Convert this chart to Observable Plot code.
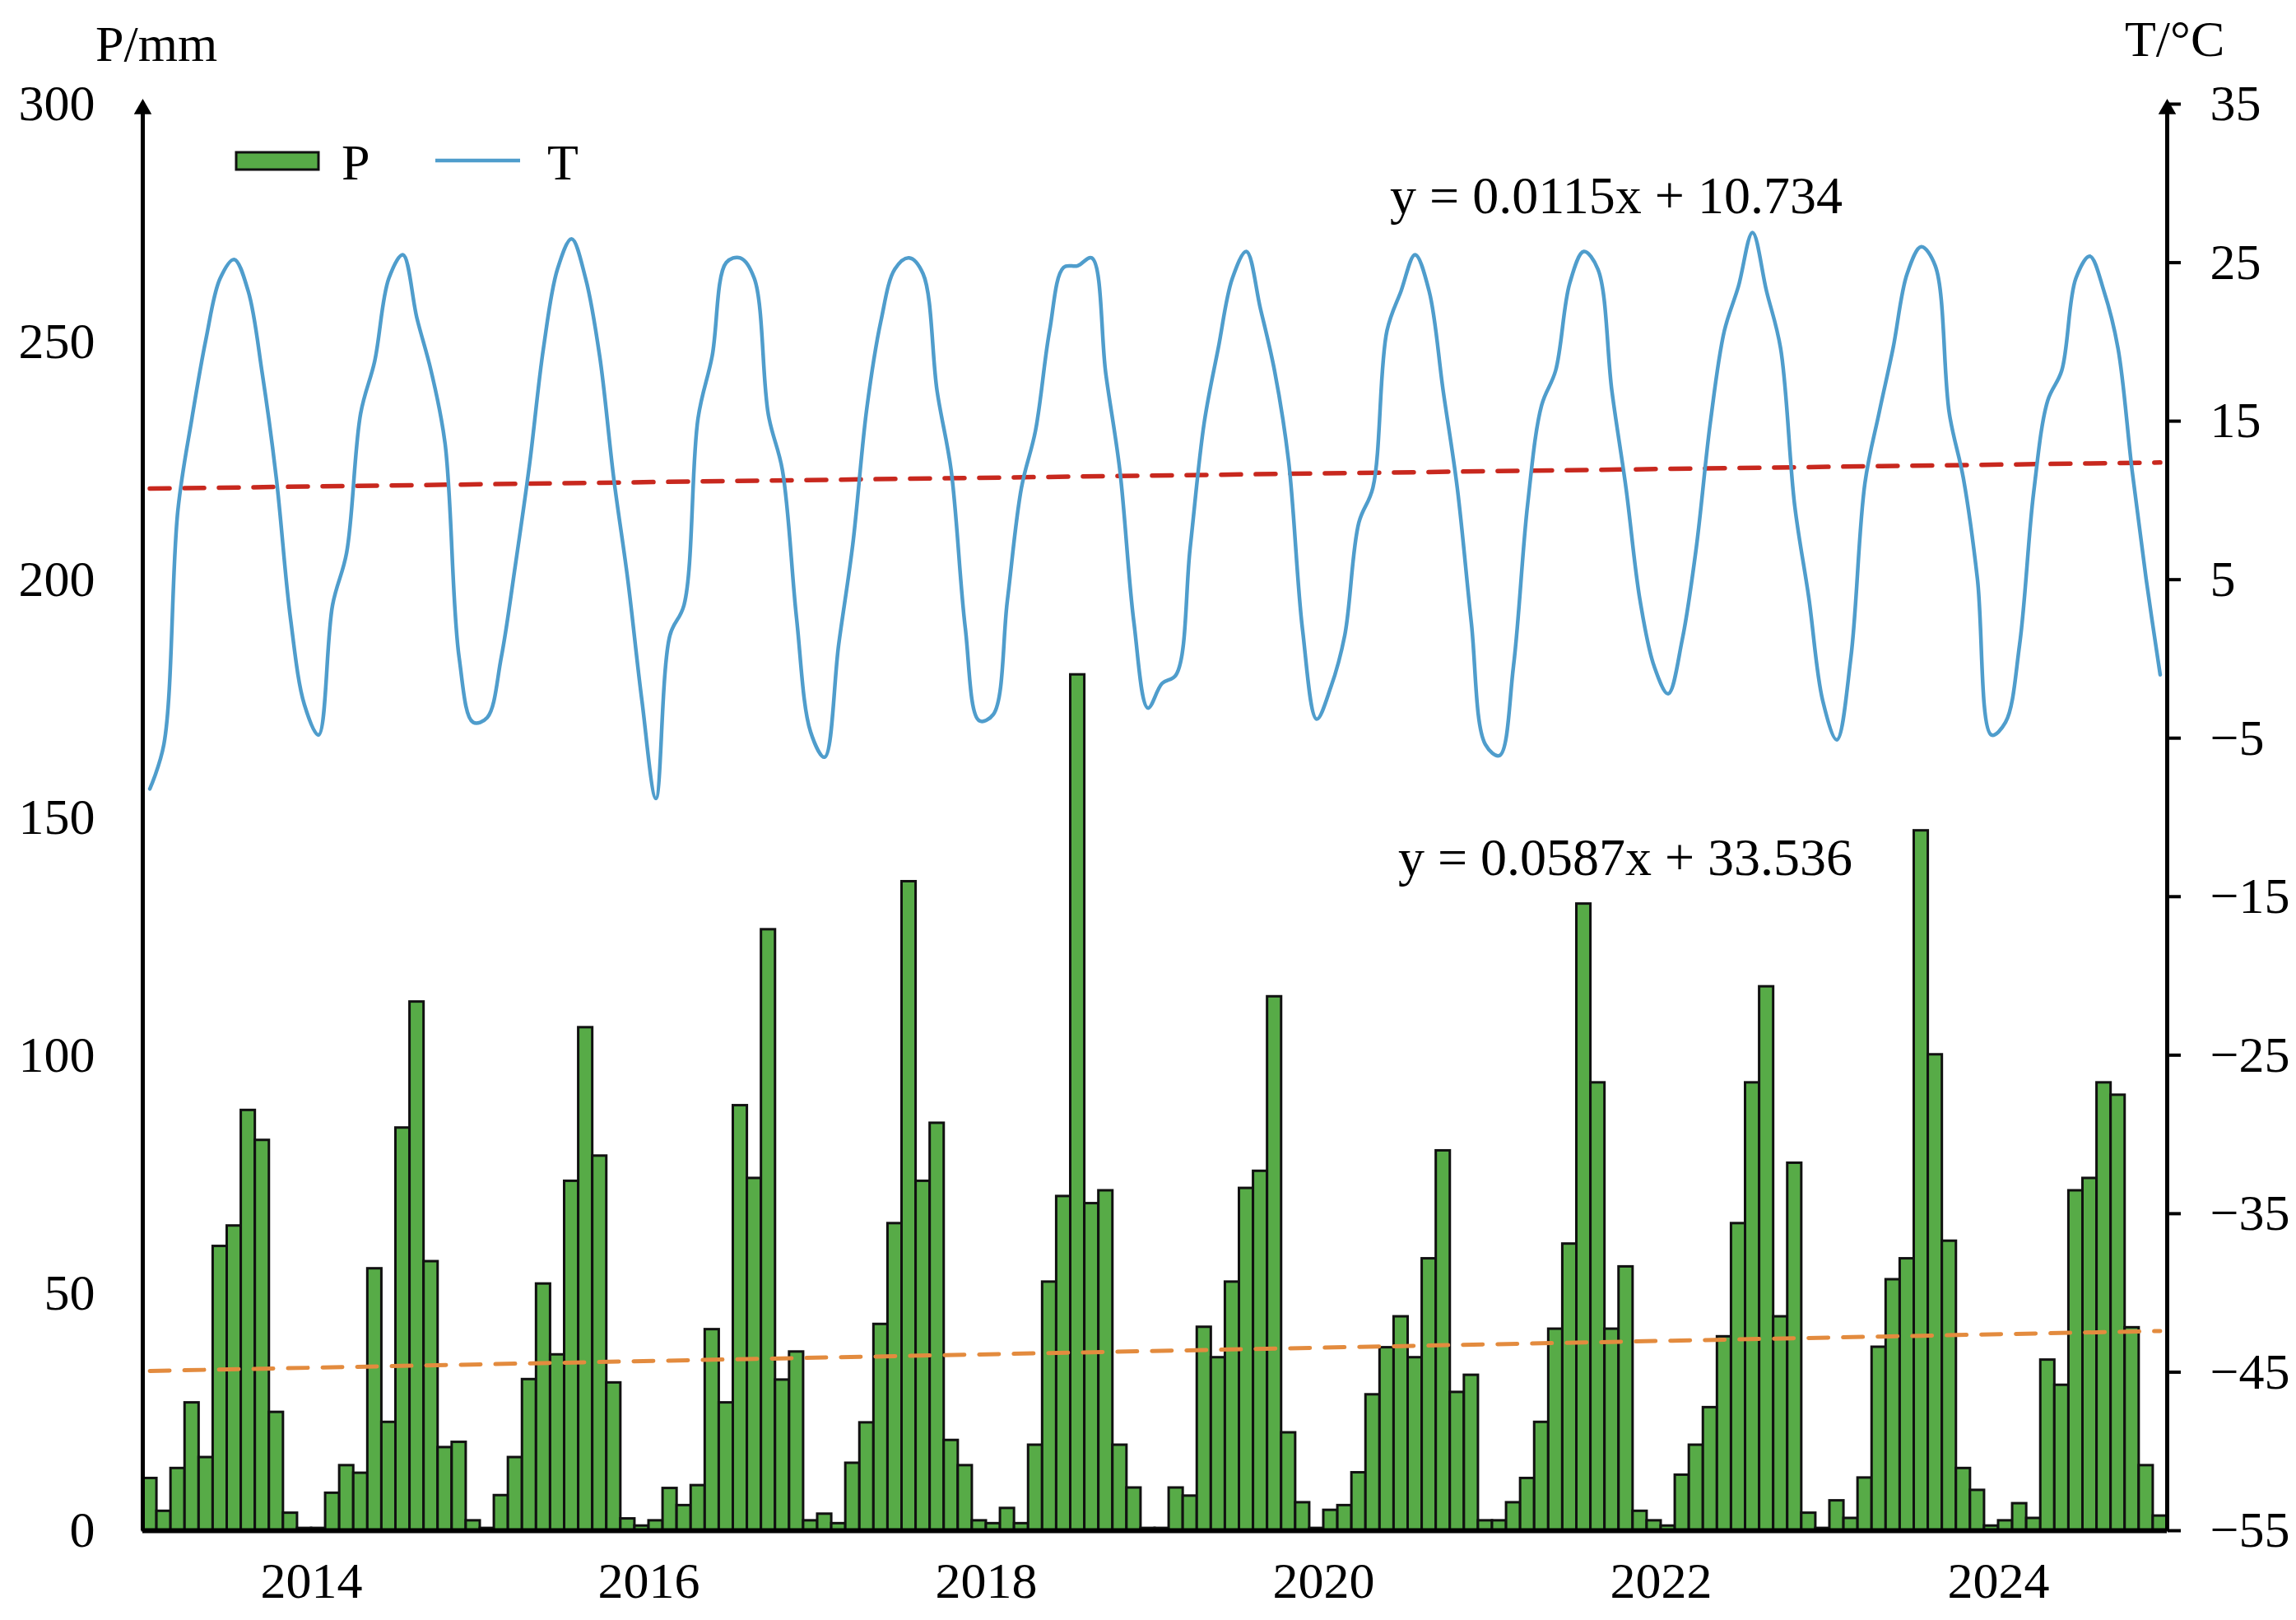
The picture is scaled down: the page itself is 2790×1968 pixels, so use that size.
<!DOCTYPE html>
<html>
<head>
<meta charset="utf-8">
<script src="https://cdn.jsdelivr.net/npm/d3@7"></script>
<script src="https://cdn.jsdelivr.net/npm/@observablehq/plot@0.6"></script>
<style>
  html, body { margin: 0; padding: 0; background: #fff; }
  #chart { width: 2790px; height: 1968px; }
</style>
</head>
<body>
<div id="chart"></div>
<script>
// ---- data (monthly, Jan 2013 – Dec 2024) ----
const startYear = 2013;
const precipitation = [
  11.0, 4.1, 13.1, 26.9, 15.4, 59.8, 64.1, 88.4, 82.1, 24.9, 3.7, 0.5,
  0.5, 7.9, 13.7, 12.1, 55.1, 22.8, 84.7, 111.2, 56.6, 17.5, 18.6, 2.1,
  0.5, 7.4, 15.4, 31.8, 51.9, 37.0, 73.5, 105.8, 78.8, 31.1, 2.5, 1.0,
  2.1, 8.9, 5.3, 9.5, 42.3, 26.9, 89.4, 74.1, 126.4, 31.7, 37.6, 2.1,
  3.5, 1.5, 14.2, 22.7, 43.4, 64.6, 136.5, 73.5, 85.7, 19.0, 13.7, 2.1,
  1.5, 4.7, 1.5, 18.0, 52.3, 70.3, 180.0, 68.8, 71.5, 18.0, 9.0, 0.5,
  0.5, 9.0, 7.3, 42.8, 36.4, 52.3, 72.0, 75.6, 112.3, 20.6, 5.9, 0.5,
  4.3, 5.3, 12.2, 28.6, 38.5, 45.0, 36.4, 57.2, 79.9, 29.1, 32.7, 2.1,
  2.1, 5.9, 11.0, 22.8, 42.4, 60.3, 131.8, 94.2, 42.4, 55.5, 4.1, 2.1,
  1.0, 11.7, 18.0, 25.9, 40.8, 64.6, 94.2, 114.4, 45.0, 77.3, 3.7, 0.5,
  6.3, 2.6, 11.1, 38.6, 52.8, 57.2, 147.2, 100.1, 60.9, 13.1, 8.5, 1.0,
  2.1, 5.7, 2.6, 35.9, 30.6, 71.5, 74.1, 94.2, 91.6, 42.7, 13.7, 3.1
];
const temperature = [
  -8.2, -5.4, 9.4, 15.2, 20.2, 24.0, 25.2, 23.2, 18.0, 11.4, 2.6, -2.9,
  -4.8, 3.4, 6.7, 15.5, 18.8, 24.0, 25.5, 21.5, 18.2, 13.6, 0.1, -4.0,
  -3.7, 0.1, 5.9, 12.2, 19.6, 24.6, 26.5, 24.0, 19.1, 11.4, 5.0, -2.6,
  -8.8, 1.5, 3.4, 15.2, 19.1, 25.0, 25.3, 24.0, 15.4, 11.9, 2.6, -4.6,
  -6.2, 0.9, 7.2, 15.8, 21.3, 24.6, 25.3, 24.3, 16.9, 11.9, 2.0, -3.9,
  -3.5, 3.7, 10.8, 14.4, 20.7, 24.7, 24.8, 25.3, 18.0, 11.9, 2.3, -3.1,
  -1.55, -1.0, 7.0, 14.9, 19.6, 24.0, 25.7, 22.1, 18.2, 12.5, 1.8, -3.8,
  -1.8, 1.5, 8.6, 10.8, 20.7, 23.2, 25.5, 23.2, 16.9, 10.8, 2.3, -5.4,
  -6.1, -0.45, 9.7, 16.0, 18.2, 23.7, 25.7, 24.6, 16.9, 10.8, 3.7, -0.45,
  -2.2, 1.2, 7.0, 14.9, 20.7, 23.5, 26.9, 23.2, 19.6, 9.7, 3.9, -2.65,
  -5.1, 0.1, 11.1, 15.5, 19.6, 24.3, 26.0, 24.8, 15.5, 11.4, 5.05, -4.8,
  -4.0, 0.9, 10.5, 16.3, 18.2, 24.0, 25.4, 23.2, 19.6, 11.9, 5.05, -1.0
];
// trend lines as printed on the chart: y = slope * x + intercept (x = month number 1..144)
const trendT = [0.0115, 10.734];
const trendP = [0.0587, 33.536];
const trendTLabel = "y = 0.0115x + 10.734";
const trendPLabel = "y = 0.0587x + 33.536";
// axes
const xTickYears = [2014, 2016, 2018, 2020, 2022, 2024];
const pTicks = [0, 50, 100, 150, 200, 250, 300];
const tTicks = [-55, -45, -35, -25, -15, -5, 5, 15, 25, 35];
const pDomain = [0, 300];
const tDomain = [-55, 35];

// ---- build ----
const n = precipitation.length;
const rows = precipitation.map((p, i) => ({i, p, t: temperature[i]}));
const tToP = t => (t - tDomain[0]) / (tDomain[1] - tDomain[0]) * (pDomain[1] - pDomain[0]) + pDomain[0];
const pToT = p => (p - pDomain[0]) / (pDomain[1] - pDomain[0]) * (tDomain[1] - tDomain[0]) + tDomain[0];
const fmtSigned = v => (v < 0 ? "\u2212" + Math.abs(v) : String(v));
const trendRows = (coef, conv) => [1, n].map(m => ({x: m - 0.5, y: conv(coef[0] * m + coef[1])}));

const GREEN = "#57ab47", BLUE = "#4f9dcc", RED = "#c8281e", ORANGE = "#e38b3e";
const FONT = "'Liberation Serif', 'Times New Roman', serif";

const plot = Plot.plot({
  width: 2790,
  height: 1968,
  marginLeft: 173,
  marginRight: 157,
  marginTop: 126,
  marginBottom: 109,
  style: {fontFamily: FONT, fontSize: "62px", color: "#000", background: "#fff", overflow: "visible"},
  x: {type: "linear", domain: [0, n], axis: null},
  y: {domain: pDomain, axis: null},
  marks: [
    Plot.rectY(rows, {x1: "i", x2: d => d.i + 1, y: "p", fill: GREEN, stroke: "#111", strokeWidth: 3}),
    Plot.line(trendRows(trendP, v => v), {x: "x", y: "y", stroke: ORANGE, strokeWidth: 5, strokeDasharray: "24,18"}),
    Plot.line(trendRows(trendT, tToP), {x: "x", y: "y", stroke: RED, strokeWidth: 5.5, strokeDasharray: "24,18"}),
    Plot.line(rows, {x: d => d.i + 0.5, y: d => tToP(d.t), curve: "catmull-rom", stroke: BLUE, strokeWidth: 4.5}),
    Plot.ruleY([pDomain[0]], {stroke: "#000", strokeWidth: 6}),
    Plot.ruleX([0, n], {y1: pDomain[0], y2: pDomain[1], stroke: "#000", strokeWidth: 5}),
    Plot.dot([0, n], {x: d => d, y: pDomain[1], symbol: "triangle", r: 8, fill: "#000", stroke: "none", dy: 6}),
    Plot.axisX({ticks: xTickYears.map(y => (y - startYear) * 12), tickFormat: v => String(startYear + v / 12),
      tickSize: 0, tickPadding: 37, label: null}),
    Plot.axisY({anchor: "left", ticks: pTicks, tickFormat: d => String(d), tickSize: 0, tickPadding: 58, label: null}),
    Plot.axisY({anchor: "right", ticks: tTicks.map(tToP), tickFormat: p => fmtSigned(Math.round(pToT(p))),
      tickSize: 16, tickPadding: 36, strokeWidth: 4, label: null})
  ]
});
document.getElementById("chart").appendChild(plot);

// ---- annotations: axis titles, legend, trend equations ----
const svg = d3.select(plot);
const g = svg.append("g").attr("font-family", FONT).attr("font-size", 62).attr("fill", "#000")
  .attr("text-anchor", "start");
g.append("text").attr("x", 116).attr("y", 74).text("P/mm");
g.append("text").attr("x", 2582).attr("y", 68).text("T/\u00B0C");
g.append("text").attr("x", 1964).attr("y", 259).attr("text-anchor", "middle").attr("font-size", 64).text(trendTLabel);
g.append("text").attr("x", 1975).attr("y", 1063).attr("text-anchor", "middle").attr("font-size", 64).text(trendPLabel);
// legend
g.append("rect").attr("x", 287).attr("y", 185).attr("width", 100).attr("height", 21)
  .attr("fill", GREEN).attr("stroke", "#111").attr("stroke-width", 3);
g.append("text").attr("x", 415).attr("y", 218).text("P");
g.append("line").attr("x1", 529).attr("x2", 632).attr("y1", 195).attr("y2", 195)
  .attr("stroke", BLUE).attr("stroke-width", 4.5);
g.append("text").attr("x", 665).attr("y", 218).text("T");
</script>
</body>
</html>
